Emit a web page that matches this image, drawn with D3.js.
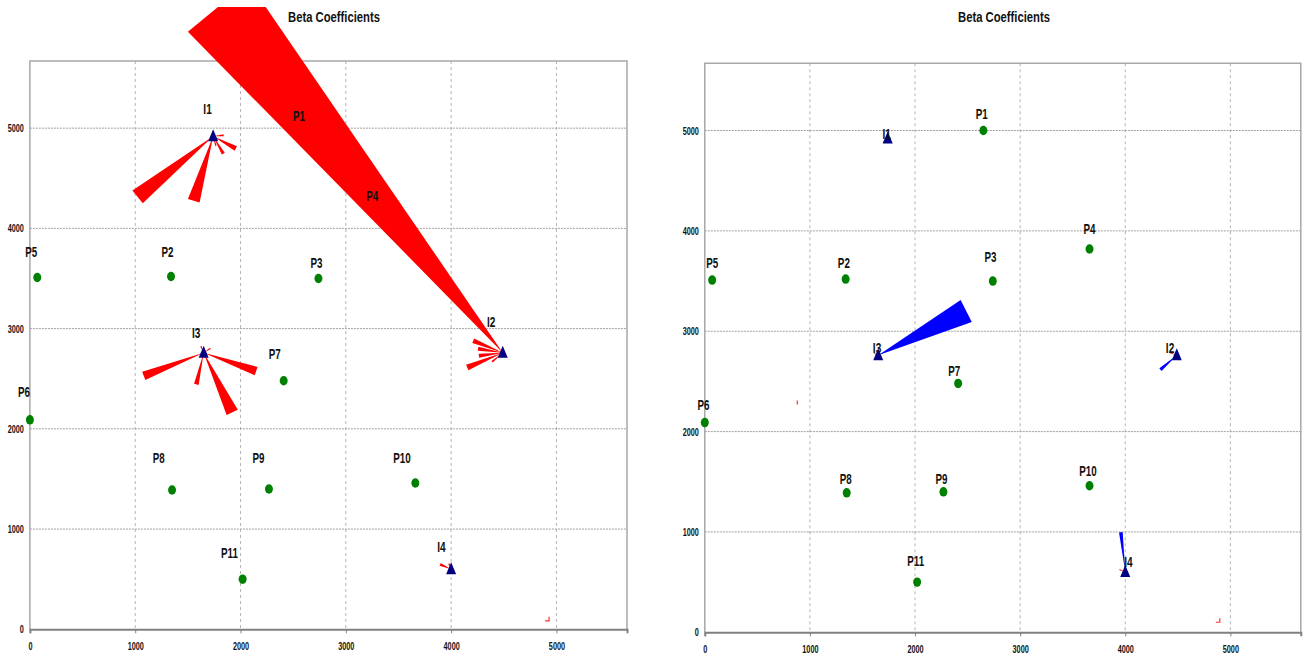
<!DOCTYPE html>
<html>
<head>
<meta charset="utf-8">
<script src="https://cdn.jsdelivr.net/npm/d3@7/dist/d3.min.js"></script>
<style>
  html, body { margin: 0; padding: 0; background: #ffffff; }
  svg { display: block; }
</style>
</head>
<body>
<svg id="chart" width="1309" height="660"></svg>
<script>
// ---------------- DATA ----------------
const chartTitle = "Beta Coefficients";
const xTicks = [0, 1000, 2000, 3000, 4000, 5000];
const yTicks = [0, 1000, 2000, 3000, 4000, 5000];
const axisMax = 5670;

// P points (green circles)
const pNames = ["P1", "P2", "P3", "P4", "P5", "P6", "P7", "P8", "P9", "P10", "P11"];
const pX = [2650, 1340, 2740, 3660, 70, 0, 2410, 1350, 2270, 3660, 2020];
const pY = [5000, 3520, 3500, 3820, 3510, 2090, 2480, 1390, 1400, 1460, 500];

// I points (navy triangles)
const iNames = ["I1", "I2", "I3", "I4"];
const iX = [1740, 4490, 1650, 4000];
const iY = [4920, 2760, 2760, 600];

// Left chart: beta coefficient wedges (from I towards P); length & spread in coordinate units
const leftFrom   = ["I1", "I1", "I1", "I1", "I1", "I1", "I2", "I2", "I2", "I2", "I2", "I2", "I3", "I3", "I3", "I3", "I3", "I3", "I4", "I4"];
const leftTo     = ["P5", "P2", "P4", "P10", "P1", "P7", "P4", "P3", "P5", "P7", "P8", "P11", "P6", "P8", "P9", "P7", "P3", "P2", "P9", "P10"];
const leftBeta   = [920, 640, 245, 192, 100, 95, 4253, 302, 237, 228, 365, 133, 610, 309, 628, 528, 76, 66, 114, 57];
const leftSpread = [157, 116, 47, 33, 19, 14, 745, 47, 38, 38, 57, 19, 83, 45, 118, 82, 14, 14, 28, 14];

// Right chart: wedges (blue = negative, red = positive)
const rightFrom   = ["I3", "I2", "I4", "I1", "I1", "I3", "I2", "I4"];
const rightTo     = ["P4", "P11", "P4", "P5", "P2", "P5", "P3", "P9"];
const rightBeta   = [937, 206, 381, 50, 40, 40, 76, 60];
const rightSpread = [236, 33, 35, 12, 10, 10, 14, 12];
const rightSign   = ["neg", "neg", "neg", "pos", "pos", "pos", "pos", "pos"];

// small stray red marks (coordinate units)
const leftMarkX = [4930];
const leftMarkY = [85];
const leftMarkKind = ["corner"];
const rightMarkX = [4900, 880];
const rightMarkY = [100, 2290];
const rightMarkKind = ["corner", "tick"];

// ---------------- LAYOUT ----------------
const svg = d3.select("#chart");
const fontFam = '"Liberation Sans", Arial, sans-serif';
const colors = { pos: "#ff0000", neg: "#0000ff" };

// horizontally condense a text selection (reference uses a narrow bold face)
function condense(sel, f) {
  sel.each(function () {
    const w = this.getComputedTextLength();
    if (w > 0) d3.select(this).attr("textLength", w * f).attr("lengthAdjust", "spacingAndGlyphs");
  });
}

const panels = [
  { x0: 29.9, x1: 627, yTop: 61, y0: 629.3, titleX: 334,
    from: leftFrom, to: leftTo, beta: leftBeta, spread: leftSpread, sign: leftFrom.map(() => "pos"),
    markX: leftMarkX, markY: leftMarkY, markKind: leftMarkKind,
    pDx: [-10, -3.5, -2, -43, -6, -6, -9, -13.4, -10.5, -13.4, -13.2],
    pDy: [-12, -24, -15, -50, -25, -28, -26.5, -31.7, -30.7, -24.7, -26.5],
    iDx: [-5.6, -11.5, -7.5, -9.6],
    iDy: [-27.3, -30.4, -19.4, -22.5],
    clipTop: 7 },
  { x0: 704.8, x1: 1300.8, yTop: 63.3, y0: 632.3, titleX: 1004,
    from: rightFrom, to: rightTo, beta: rightBeta, spread: rightSpread, sign: rightSign,
    markX: rightMarkX, markY: rightMarkY, markKind: rightMarkKind,
    pDx: [-1.6, -1.8, -2.3, 0, 0, -1.4, -3.8, -1, -2, -1.5, -1.4],
    pDy: [-16.3, -15.6, -23.6, -20, -16.6, -17.5, -12.6, -14, -13, -15, -20.8],
    iDx: [-1, -6.7, -1.2, 3.2],
    iDy: [-5, -6.9, -6.9, -10],
    clipTop: 0 }
];

panels.forEach((pn, k) => {
  const g = svg.append("g");
  const x = d3.scaleLinear().domain([0, axisMax]).range([pn.x0, pn.x1]);
  const y = d3.scaleLinear().domain([0, axisMax]).range([pn.y0, pn.yTop]);
  const unit = (x(1000) - x(0)) / 1000;

  const clipId = "clip" + k;
  g.append("clipPath").attr("id", clipId).append("rect")
    .attr("x", k === 0 ? 0 : 655).attr("y", pn.clipTop)
    .attr("width", 654).attr("height", 660 - pn.clipTop);

  // title
  g.append("text").attr("x", pn.titleX).attr("y", 16)
    .attr("text-anchor", "middle").attr("dominant-baseline", "central")
    .attr("font-family", fontFam).attr("font-weight", "bold").attr("font-size", 15)
    .attr("fill", "#111").text(chartTitle)
    .call(condense, 0.75);

  // grid
  g.selectAll(".vg").data(xTicks.filter(d => d > 0)).join("line")
    .attr("x1", d => x(d)).attr("x2", d => x(d)).attr("y1", pn.yTop).attr("y2", pn.y0)
    .attr("stroke", "#b4b4b4").attr("stroke-width", 1).attr("stroke-dasharray", "3,3");
  g.selectAll(".hg").data(yTicks.filter(d => d > 0)).join("line")
    .attr("x1", pn.x0).attr("x2", pn.x1).attr("y1", d => y(d)).attr("y2", d => y(d))
    .attr("stroke", "#a0a0a0").attr("stroke-width", 1).attr("stroke-dasharray", "2,1");

  // frame
  g.append("path")
    .attr("d", `M${pn.x0},${pn.y0}V${pn.yTop}H${pn.x1}V${pn.y0}`)
    .attr("fill", "none").attr("stroke", "#a8a8a8").attr("stroke-width", 1.5);

  // axes
  const xAxis = d3.axisBottom(x).tickValues(xTicks).tickSize(4).tickFormat(d3.format("d"));
  const gx = g.append("g").attr("transform", `translate(0,${pn.y0})`).call(xAxis);
  gx.select(".domain").attr("stroke", "#808080").attr("stroke-width", 2);
  gx.selectAll(".tick line").attr("stroke", "#808080");
  gx.selectAll(".tick text").attr("font-family", fontFam).attr("font-weight", "bold")
    .attr("font-size", 11).attr("fill", "#111").attr("dy", "1.25em")
    .call(condense, 0.66);

  const yAxis = d3.axisLeft(y).tickValues(yTicks).tickSize(0).tickPadding(6).tickFormat(d3.format("d"));
  const gy = g.append("g").attr("transform", `translate(${pn.x0},0)`).call(yAxis);
  gy.select(".domain").remove();
  gy.selectAll(".tick text").attr("font-family", fontFam).attr("font-weight", "bold")
    .attr("font-size", 11).attr("fill", "#111")
    .call(condense, 0.66);

  // P circles
  g.selectAll(".pt").data(pNames).join("ellipse")
    .attr("cx", (d, i) => x(pX[i])).attr("cy", (d, i) => y(pY[i]))
    .attr("rx", 4).attr("ry", 4.7).attr("fill", "#008000");

  // wedges
  const pIndex = name => pNames.indexOf(name);
  const iIndex = name => iNames.indexOf(name);
  const wg = g.append("g").attr("clip-path", `url(#${clipId})`);
  wg.selectAll(".wedge").data(pn.from).join("path")
    .attr("d", (d, j) => {
      const a = iIndex(d), b = pIndex(pn.to[j]);
      const ax = x(iX[a]), ay = y(iY[a]);
      const bx = x(pX[b]), by = y(pY[b]);
      const dx = bx - ax, dy = by - ay, len = Math.hypot(dx, dy);
      const ux = dx / len, uy = dy / len;
      const L = pn.beta[j] * unit, W = pn.spread[j] * unit / 2;
      const cx = ax + ux * L, cy = ay + uy * L;
      return `M${ax},${ay}L${cx - uy * W},${cy + ux * W}L${cx + uy * W},${cy - ux * W}Z`;
    })
    .attr("fill", (d, j) => colors[pn.sign[j]]);

  // stray small marks
  g.selectAll(".mark").data(pn.markX).join("path")
    .attr("d", (d, j) => {
      const mx = x(d), my = y(pn.markY[j]);
      return pn.markKind[j] === "corner"
        ? `M${mx - 4},${my}H${mx}V${my - 4}`
        : `M${mx},${my - 2}V${my + 2}`;
    })
    .attr("fill", "none").attr("stroke", "#ff3030").attr("stroke-width", 1.2);

  // I triangles
  g.selectAll(".tri").data(iNames).join("path")
    .attr("d", (d, i) => {
      const cx = x(iX[i]), cy = y(iY[i]);
      return `M${cx},${cy - 7}L${cx + 5},${cy + 5}L${cx - 5},${cy + 5}Z`;
    })
    .attr("fill", "#000080");

  // labels
  g.selectAll(".plab").data(pNames).join("text")
    .attr("x", (d, i) => x(pX[i]) + pn.pDx[i]).attr("y", (d, i) => y(pY[i]) + pn.pDy[i])
    .attr("text-anchor", "middle").attr("dominant-baseline", "central")
    .attr("font-family", fontFam).attr("font-weight", "bold").attr("font-size", 14)
    .attr("fill", "#111").text(d => d)
    .call(condense, 0.7);
  g.selectAll(".ilab").data(iNames).join("text")
    .attr("x", (d, i) => x(iX[i]) + pn.iDx[i]).attr("y", (d, i) => y(iY[i]) + pn.iDy[i])
    .attr("text-anchor", "middle").attr("dominant-baseline", "central")
    .attr("font-family", fontFam).attr("font-weight", "bold").attr("font-size", 14)
    .attr("fill", "#111").text(d => d)
    .call(condense, 0.72);
});
</script>
</body>
</html>
